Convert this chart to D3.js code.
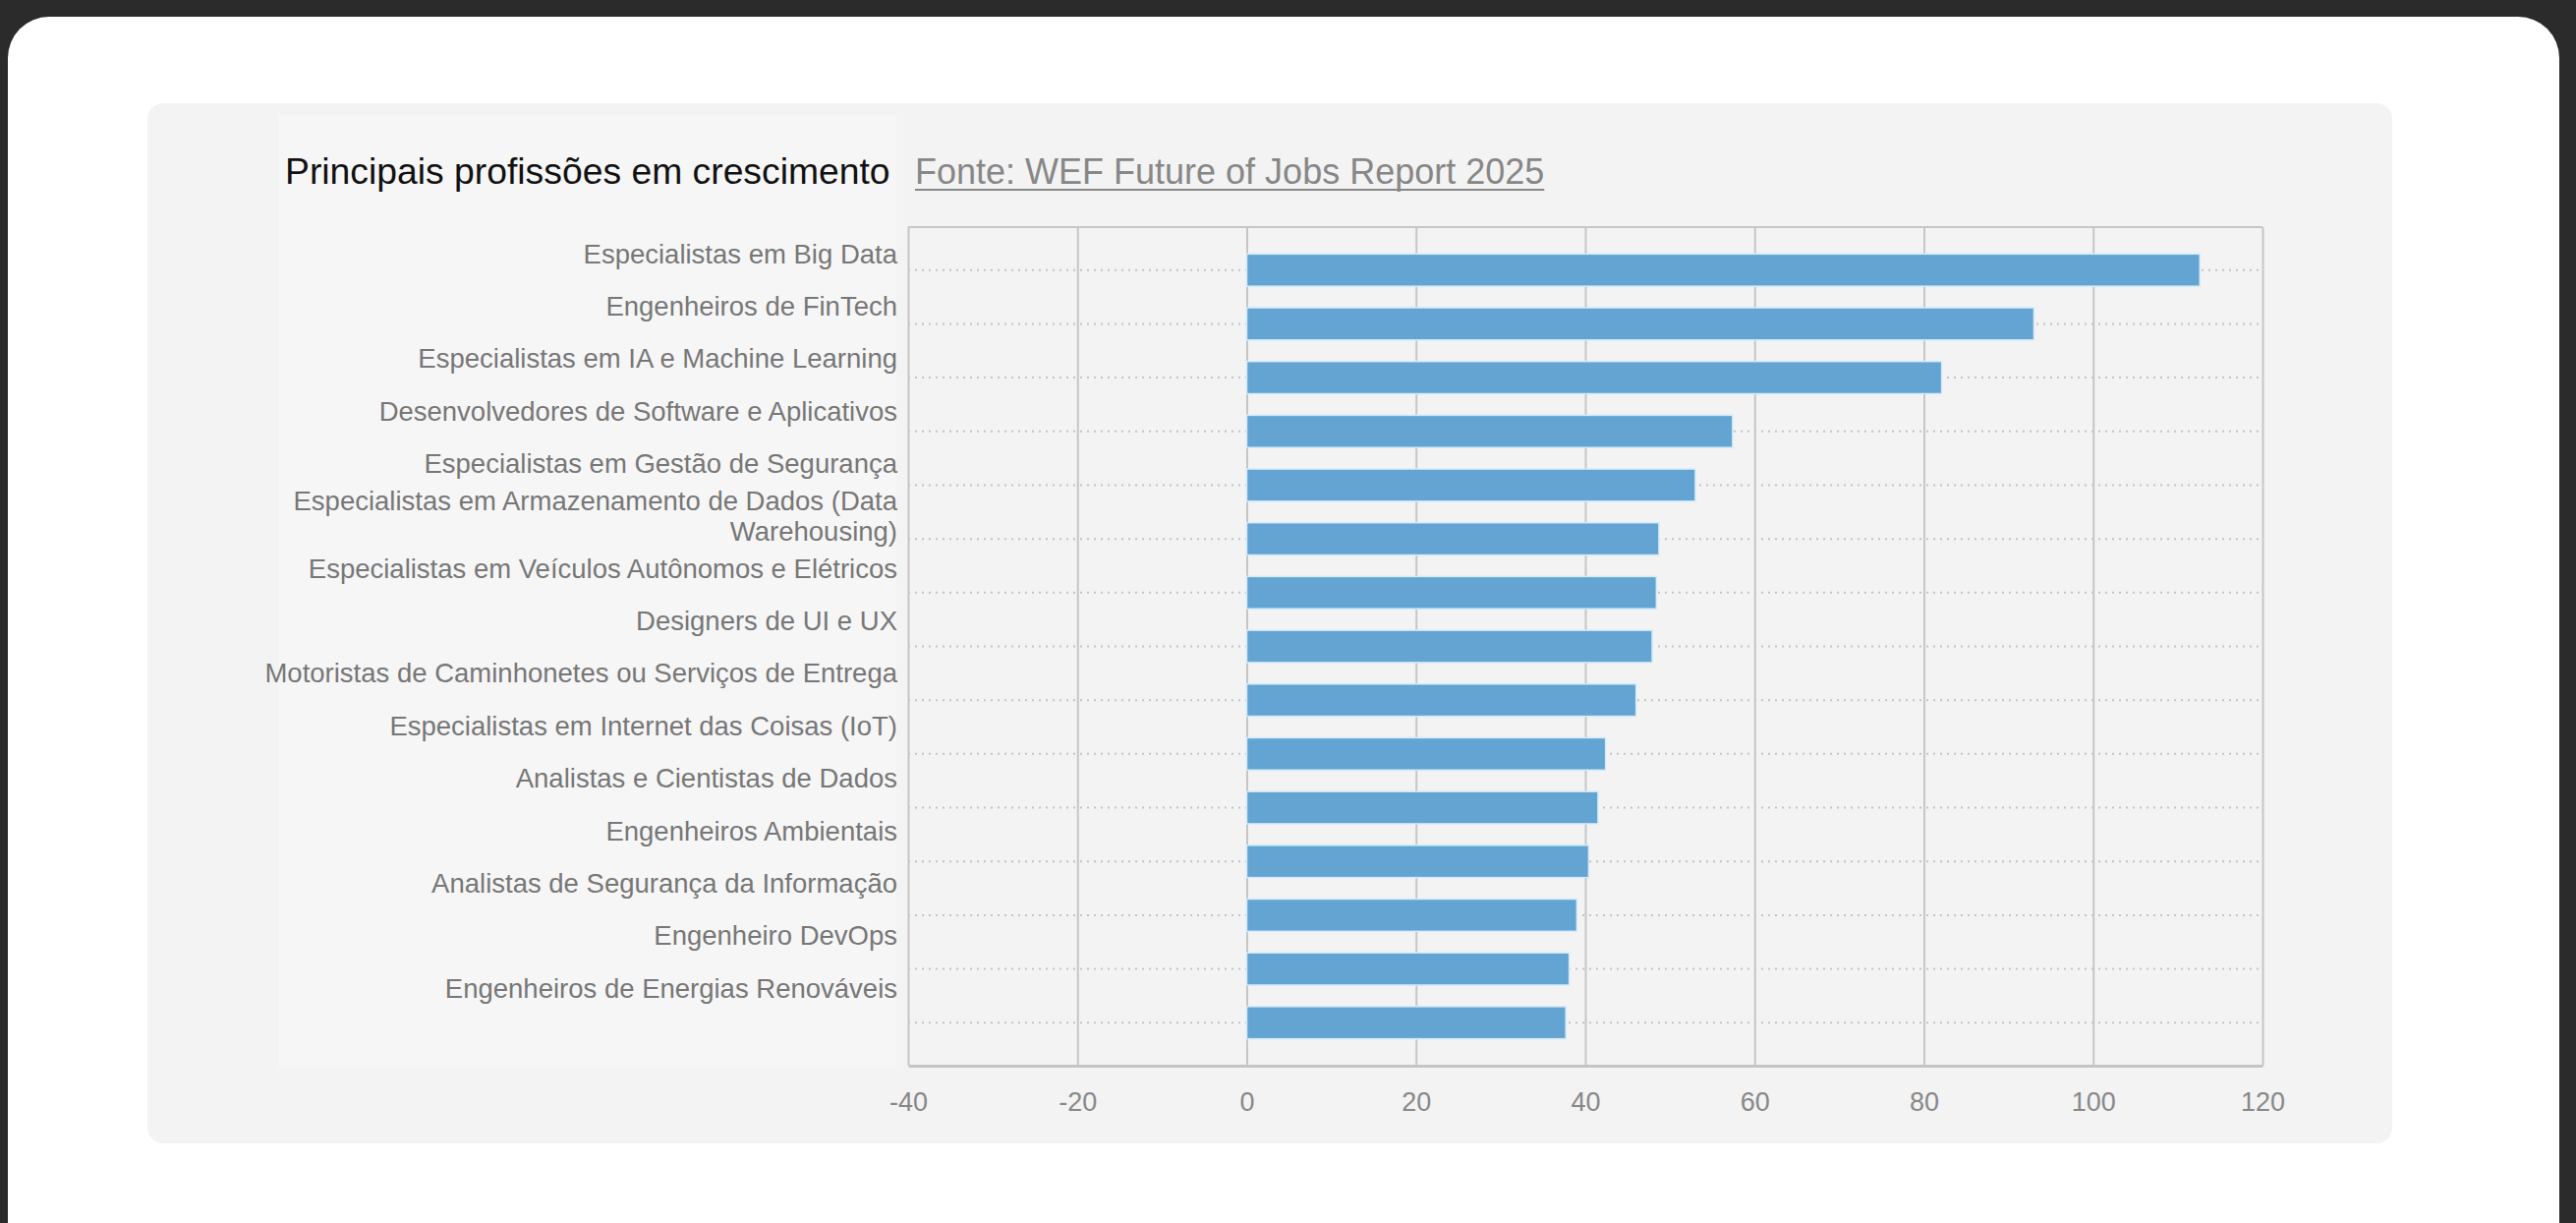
<!DOCTYPE html>
<html><head><meta charset="utf-8">
<script src="https://cdn.jsdelivr.net/npm/d3@7"></script>
<style>
html,body{margin:0;padding:0;background:#2b2b2b;overflow:hidden;}
svg{display:block;font-family:"Liberation Sans",Arial,Helvetica,sans-serif;}
</style>
</head><body>
<svg id="chart" width="2621" height="1244"></svg>
<script>
// ---- data ----
const categories = [
  "Especialistas em Big Data",
  "Engenheiros de FinTech",
  "Especialistas em IA e Machine Learning",
  "Desenvolvedores de Software e Aplicativos",
  "Especialistas em Gestão de Segurança",
  "Especialistas em Armazenamento de Dados (Data Warehousing)",
  "Especialistas em Veículos Autônomos e Elétricos",
  "Designers de UI e UX",
  "Motoristas de Caminhonetes ou Serviços de Entrega",
  "Especialistas em Internet das Coisas (IoT)",
  "Analistas e Cientistas de Dados",
  "Engenheiros Ambientais",
  "Analistas de Segurança da Informação",
  "Engenheiro DevOps",
  "Engenheiros de Energias Renováveis"
];
const values = [112.6, 93.0, 82.1, 57.4, 53.0, 48.7, 48.4, 47.9, 46.0, 42.4, 41.5, 40.4, 39.0, 38.1, 37.7];
const xTicks = [-40, -20, 0, 20, 40, 60, 80, 100, 120];
const xDomain = [-40, 120];
const titleText = "Principais profissões em crescimento";
const sourceText = "Fonte: WEF Future of Jobs Report 2025";

// ---- layout ----
const W = 2621, H = 1244;
const plot = {left: 924, right: 2302, top: 231, bottom: 1084};
const svg = d3.select("#chart");

svg.append("rect").attr("x", 0).attr("y", 0).attr("width", W).attr("height", H).attr("fill", "#2b2b2b");
svg.append("rect").attr("x", 8).attr("y", 17).attr("width", 2596).attr("height", 1320).attr("rx", 42).attr("fill", "#ffffff");
svg.append("rect").attr("x", 150).attr("y", 105).attr("width", 2284).attr("height", 1058).attr("rx", 16).attr("fill", "#f3f3f3");
svg.append("rect").attr("x", 284).attr("y", 117).attr("width", 628).attr("height", 970).attr("fill", "#f6f6f6");

// title
svg.append("text").attr("x", 290).attr("y", 187)
  .attr("font-size", 37.3).attr("fill", "#111").text(titleText);
const src = svg.append("text").attr("x", 931).attr("y", 187)
  .attr("font-size", 36).attr("fill", "#878787").text(sourceText);
const srcW = src.node().getComputedTextLength();
svg.append("line").attr("x1", 931).attr("x2", 931 + srcW).attr("y1", 193).attr("y2", 193)
  .attr("stroke", "#878787").attr("stroke-width", 2);

// scales
const x = d3.scaleLinear().domain(xDomain).range([plot.left, plot.right]);
const y = d3.scaleBand().domain(categories).range([plot.top, plot.bottom])
  .paddingInner(0.4).paddingOuter(0.5);
const yLabel = d3.scalePoint().domain(categories).range([258, 1005]);

// dotted row lines
svg.append("g").selectAll("line").data(categories).join("line")
  .attr("x1", plot.left).attr("x2", plot.right)
  .attr("y1", d => y(d) + y.bandwidth() / 2).attr("y2", d => y(d) + y.bandwidth() / 2)
  .attr("stroke", "#c4c4c4").attr("stroke-width", 2).attr("stroke-dasharray", "2,5");

// vertical gridlines
const grid = svg.append("g").attr("transform", `translate(0,${plot.bottom})`)
  .call(d3.axisBottom(x).tickValues(xTicks).tickSize(-(plot.bottom - plot.top)).tickFormat(""));
grid.select(".domain").remove();
grid.selectAll(".tick line").attr("stroke", "#c6c6c6").attr("stroke-width", 2);

// top border
svg.append("line").attr("x1", plot.left).attr("x2", plot.right)
  .attr("y1", plot.top).attr("y2", plot.top).attr("stroke", "#c6c6c6").attr("stroke-width", 2);

// bars
svg.append("g").selectAll("rect").data(values).join("rect")
  .attr("x", x(0))
  .attr("y", (d, i) => y(categories[i]))
  .attr("width", d => x(d) - x(0))
  .attr("height", y.bandwidth())
  .attr("fill", "#64a4d3")
  .attr("stroke", "#d3ebfa").attr("stroke-width", 1.5);

// bottom axis
const ax = svg.append("g").attr("transform", `translate(0,${plot.bottom})`)
  .call(d3.axisBottom(x).tickValues(xTicks).tickSize(0).tickPadding(27).tickFormat(d => String(d)));
ax.select(".domain").attr("stroke", "#c4c4c4").attr("stroke-width", 3);
ax.selectAll(".tick text").attr("font-size", 27).attr("fill", "#888")
  .attr("font-family", '"Liberation Sans",Arial,sans-serif');

// category labels
const labelG = svg.append("g").attr("font-size", 27.5).attr("fill", "#777").attr("text-anchor", "end");
const labelRight = 913, maxLabelW = 720, lineH = 31;
categories.forEach(cat => {
  const words = cat.split(" ");
  let lines = [], cur = [];
  const probe = labelG.append("text").attr("opacity", 0);
  words.forEach(w => {
    const test = cur.concat([w]).join(" ");
    probe.text(test);
    if (probe.node().getComputedTextLength() > maxLabelW && cur.length) {
      lines.push(cur.join(" ")); cur = [w];
    } else cur.push(w);
  });
  lines.push(cur.join(" "));
  probe.remove();
  const cy = yLabel(cat);
  const t = labelG.append("text").attr("x", labelRight).attr("y", cy);
  lines.forEach((ln, k) => {
    t.append("tspan").attr("x", labelRight)
      .attr("y", cy + (k - (lines.length - 1) / 2) * lineH)
      .attr("dy", "0.35em").text(ln);
  });
});
</script>
</body></html>
